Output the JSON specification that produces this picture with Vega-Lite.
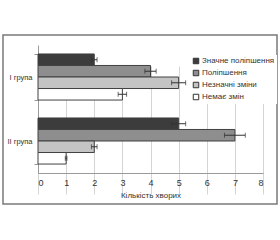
{
  "$schema": "https://vega.github.io/schema/vega-lite/v6.json",
  "width": 274,
  "height": 169,
  "autosize": {"type": "none"},
  "padding": {"left": 3, "top": 35, "right": 3, "bottom": 36},
  "background": "white",
  "config": {
    "view": {"stroke": "#7a7a7a", "strokeWidth": 1.5},
    "font": "Liberation Sans, sans-serif",
    "axisX": {"labelOverlap": false, "grid": true, "gridColor": "#d4d4d4", "domainColor": "#9a9a9a", "ticks": false, "labelPadding": 5, "labelFontSize": 9, "labelColor": "#333", "titleFontSize": 8, "titleFontWeight": "normal", "titleColor": "#333", "titlePadding": 4}
  },
  "data": {
    "values": [
      {"group": "I група", "cat": "Значне поліпшення", "value": 2, "lo": 1.9, "hi": 2.1},
      {"group": "I група", "cat": "Поліпшення", "value": 4, "lo": 3.8, "hi": 4.2},
      {"group": "I група", "cat": "Незначні зміни", "value": 5, "lo": 4.75, "hi": 5.25},
      {"group": "I група", "cat": "Немає змін", "value": 3, "lo": 2.85, "hi": 3.15},
      {"group": "II група", "cat": "Значне поліпшення", "value": 5, "lo": 4.75, "hi": 5.25},
      {"group": "II група", "cat": "Поліпшення", "value": 7, "lo": 6.63, "hi": 7.37},
      {"group": "II група", "cat": "Незначні зміни", "value": 2, "lo": 1.9, "hi": 2.1},
      {"group": "II група", "cat": "Немає змін", "value": 1, "lo": 0.97, "hi": 1.03}
    ]
  },
  "encoding": {
    "y": {
      "field": "group", "type": "nominal", "sort": ["I група", "II група"],
      "scale": {"range": [10, 138], "paddingInner": 0.28, "paddingOuter": 0.14},
      "axis": {"title": null, "offset": -35, "domainColor": "#9a9a9a", "tickColor": "#9a9a9a", "tickBand": "extent", "tickSize": 4, "labelFontSize": 7.5, "labelColor": "#333", "labelPadding": 2}
    },
    "yOffset": {
      "field": "cat", "type": "nominal",
      "sort": ["Значне поліпшення", "Поліпшення", "Незначні зміни", "Немає змін"],
      "scale": {"paddingInner": 0, "paddingOuter": 0}
    }
  },
  "layer": [
    {
      "mark": {"type": "bar", "stroke": "#404040", "strokeWidth": 1},
      "encoding": {
        "x": {
          "field": "value", "type": "quantitative",
          "scale": {"domain": [0, 8], "range": [35, 260], "nice": false},
          "axis": {"title": "Кількість хворих", "offset": -31, "values": [0,1,2,3,4,5,6,7,8], "tickCount": 12, "format": "d"}
        },
        "color": {
          "field": "cat", "type": "nominal",
          "sort": ["Значне поліпшення", "Поліпшення", "Незначні зміни", "Немає змін"],
          "scale": {"domain": ["Значне поліпшення", "Поліпшення", "Незначні зміни", "Немає змін"], "range": ["#3c3c3c", "#8e8e8e", "#c4c4c4", "#ffffff"]},
          "legend": {"title": null, "orient": "none", "legendX": 187, "legendY": 20, "fillColor": "white", "padding": 2, "symbolType": "square", "symbolSize": 30, "symbolStrokeColor": "#333", "symbolStrokeWidth": 1, "symbolOpacity": 1, "labelFontSize": 8, "labelColor": "#333", "rowPadding": 2, "labelOffset": 2, "labelLimit": 80}
        }
      }
    },
    {
      "mark": {"type": "rule", "color": "#333", "strokeWidth": 1},
      "encoding": {"x": {"field": "lo", "type": "quantitative", "axis": {"title": "Кількість хворих", "offset": -31, "values": [0,1,2,3,4,5,6,7,8], "tickCount": 12, "format": "d"}}, "x2": {"field": "hi"}}
    },
    {
      "mark": {"type": "tick", "color": "#333", "size": 5, "thickness": 1},
      "encoding": {"x": {"field": "lo", "type": "quantitative", "axis": {"title": "Кількість хворих", "offset": -31, "values": [0,1,2,3,4,5,6,7,8], "tickCount": 12, "format": "d"}}}
    },
    {
      "mark": {"type": "tick", "color": "#333", "size": 5, "thickness": 1},
      "encoding": {"x": {"field": "hi", "type": "quantitative", "axis": {"title": "Кількість хворих", "offset": -31, "values": [0,1,2,3,4,5,6,7,8], "tickCount": 12, "format": "d"}}}
    }
  ]
}
